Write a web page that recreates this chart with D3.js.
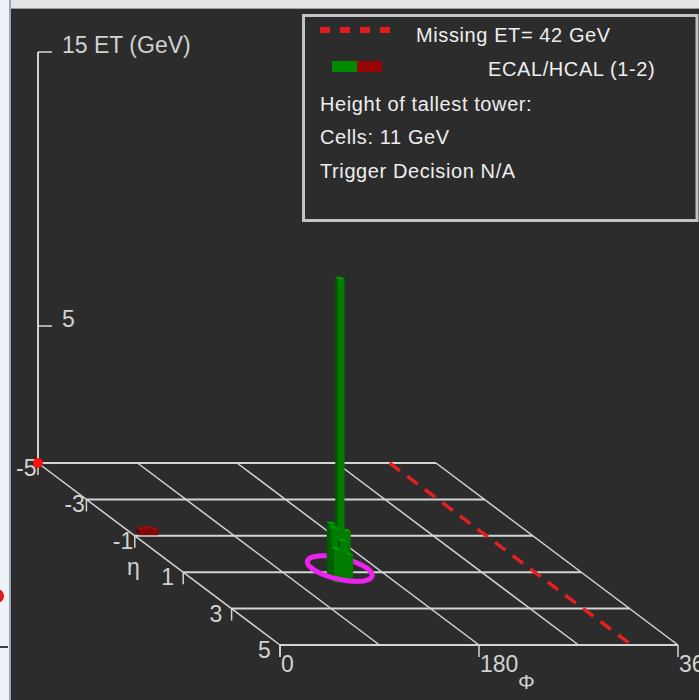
<!DOCTYPE html>
<html>
<head>
<meta charset="utf-8">
<script src="https://cdn.jsdelivr.net/npm/d3@7"></script>
<style>
  html, body { margin: 0; padding: 0; background: #2c2c2c; }
  svg { display: block; }
  text { font-family: "Liberation Sans", Arial, sans-serif; }
</style>
</head>
<body>
<svg id="lego" width="699" height="700"></svg>
<script>
// ---- event data --------------------------------------------------------
const etaTicks = [-5, -3, -1, 1, 3, 5];
const phiGrid = [0, 90, 180, 270, 360];
const phiTicks = [0, 180, 360];
const phiTickLabels = ["0", "180", "360"];
const etTicks = [5, 15];
const etTickLabels = ["5", "15 ET (GeV)"];

// calorimeter towers (cell centres in eta / phi-degrees, ET in GeV)
const towerEta  = [1.2, 1.3, 1.3, 1.3, 1.4, 1.4, 1.4, 1.5, 1.5, 1.5, -1.1, -1.1, -1.1];
const towerPhi  = [133, 127.4, 133, 138.6, 127.4, 133, 138.6, 127.4, 133, 138.6, 8, 13.6, 19.3];
const towerEcal = [1.4, 2.0, 1.8, 1.7, 1.9, 11, 1.8, 1.2, 1.5, 1.0, 0, 0, 0];
const towerHcal = [0, 0, 0, 0, 0, 0, 0, 0, 0, 0, 0.2, 0.25, 0.2];

const cellEta = 0.1;
const cellPhi = 5.625;

// missing transverse energy
const metValue = 42;
const metPhi = 318;

// jet cone outline on the eta-phi plane
const jetEta = 0.8, jetPhi = 146, jetREta = 0.7, jetRPhi = 25;

const triggerText = "Trigger Decision N/A";

// ---- projection --------------------------------------------------------
const phiX = d3.scaleLinear().domain([0, 360]).range([0, 398]);
const etaX = d3.scaleLinear().domain([-5, 5]).range([38, 280]);
const etaY = d3.scaleLinear().domain([-5, 5]).range([463, 645]);
const etH  = d3.scaleLinear().domain([0, 15]).range([0, 411]);

function P(eta, phi, et) {
  return [etaX(eta) + phiX(phi), etaY(eta) - etH(et || 0)];
}

const svg = d3.select("#lego");
const line = d3.line();

// window chrome around the display panel
svg.append("rect").attr("x", 0).attr("y", 0).attr("width", 699).attr("height", 700).attr("fill", "#2c2c2c");
svg.append("rect").attr("x", 0).attr("y", 0).attr("width", 699).attr("height", 8).attr("fill", "#e3e3e3");
svg.append("rect").attr("x", 0).attr("y", 0).attr("width", 10).attr("height", 700).attr("fill", "#eef2f7");
svg.append("rect").attr("x", 10).attr("y", 8).attr("width", 689).attr("height", 1).attr("fill", "#9e9e9e");
svg.append("rect").attr("x", 9).attr("y", 0).attr("width", 2).attr("height", 700).attr("fill", "#97a5b3");
svg.append("rect").attr("x", 0).attr("y", 646).attr("width", 8).attr("height", 2).attr("fill", "#3a3f46");
svg.append("circle").attr("cx", -3).attr("cy", 596).attr("r", 7).attr("fill", "#e01818");

const gridColor = "#d4d4d4";
const textColor = "#d2d2d2";

// ---- floor grid --------------------------------------------------------
const grid = svg.append("g");
grid.selectAll("path.row").data(etaTicks).join("path")
  .attr("d", e => line([P(e, 0), P(e, 360)]))
  .attr("stroke", gridColor).attr("stroke-width", 2).attr("fill", "none");
grid.selectAll("path.col").data(phiGrid).join("path")
  .attr("d", p => line([P(-5, p), P(5, p)]))
  .attr("stroke", gridColor).attr("stroke-width", 1.5).attr("fill", "none");

// eta ticks and labels
grid.selectAll("path.etick").data(etaTicks).join("path")
  .attr("d", e => { const [x, y] = P(e, 0); return line([[x, y], [x, y + 12]]); })
  .attr("stroke", gridColor).attr("stroke-width", 1.5);
grid.selectAll("text.elab").data(etaTicks).join("text")
  .attr("x", e => P(e, 0)[0] - 22).attr("y", e => P(e, 0)[1] + 13)
  .attr("font-size", 23).attr("fill", textColor)
  .text(e => e < 0 ? "-" + Math.abs(e) : String(e));
svg.append("text")
  .attr("x", P(0, 0)[0] - 32).attr("y", P(0, 0)[1] + 21)
  .attr("font-size", 23).attr("fill", textColor).text("η");

// phi ticks and labels along the front edge
grid.selectAll("path.ptick").data(phiTicks).join("path")
  .attr("d", p => { const [x, y] = P(5, p); return line([[x, y], [x, y + 12]]); })
  .attr("stroke", gridColor).attr("stroke-width", 1.5);
grid.selectAll("text.plab").data(phiTicks).join("text")
  .attr("x", p => P(5, p)[0] + 1).attr("y", p => P(5, p)[1] + 27)
  .attr("font-size", 23).attr("fill", textColor)
  .text((p, i) => phiTickLabels[i]);
svg.append("text")
  .attr("x", P(5, 180)[0] + 39).attr("y", P(5, 180)[1] + 44)
  .attr("font-size", 21).attr("fill", textColor).text("Φ");

// vertical ET axis
const [ox, oy] = P(-5, 0, 0);
svg.append("path").attr("d", line([[ox, oy], P(-5, 0, 15)]))
  .attr("stroke", gridColor).attr("stroke-width", 2);
svg.selectAll("path.ettick").data(etTicks).join("path")
  .attr("d", v => { const [x, y] = P(-5, 0, v); return line([[x, y], [x + 14, y]]); })
  .attr("stroke", gridColor).attr("stroke-width", 1.5);
svg.selectAll("text.etlab").data(etTicks).join("text")
  .attr("x", v => P(-5, 0, v)[0] + 24).attr("y", v => P(-5, 0, v)[1] + 1)
  .attr("font-size", 23).attr("fill", textColor)
  .text((v, i) => etTickLabels[i]);

// ---- missing ET direction ---------------------------------------------
svg.append("path").attr("d", line([P(-5, metPhi), P(5, metPhi)]))
  .attr("stroke", "#e52020").attr("stroke-width", 3.5)
  .attr("stroke-dasharray", "13,9").attr("fill", "none");

// ---- jet cone (back half before towers, front half after) --------------
const jetColor = "#ee22ee";
function jetArc(t0, t1) {
  const pts = d3.range(0, 41).map(i => {
    const t = t0 + (t1 - t0) * i / 40;
    return P(jetEta + jetREta * Math.sin(t), jetPhi + jetRPhi * Math.cos(t));
  });
  return line(pts);
}
svg.append("path").attr("d", jetArc(Math.PI, 2 * Math.PI))
  .attr("stroke", jetColor).attr("stroke-width", 5).attr("fill", "none")
  .attr("stroke-linecap", "round");

// ---- towers ------------------------------------------------------------
const towers = towerEta.map((e, i) => ({
  eta: e, phi: towerPhi[i], ecal: towerEcal[i], hcal: towerHcal[i]
}));
// paint back-to-front: low eta first, then high phi first
towers.sort((a, b) => a.eta - b.eta || b.phi - a.phi);

const faceColors = {
  ecal: { front: "#007d00", side: "#005c00", top: "#00a000" },
  hcal: { front: "#800808", side: "#5e0404", top: "#9a1010" }
};

const towerG = svg.append("g");
function drawBox(t, z0, z1, c) {
  if (z1 <= z0) return;
  const e0 = t.eta - cellEta / 2, e1 = t.eta + cellEta / 2;
  const p0 = t.phi - cellPhi / 2, p1 = t.phi + cellPhi / 2;
  const faces = [
    { d: [P(e0, p0, z0), P(e1, p0, z0), P(e1, p0, z1), P(e0, p0, z1)], f: c.side },
    { d: [P(e1, p0, z0), P(e1, p1, z0), P(e1, p1, z1), P(e1, p0, z1)], f: c.front },
    { d: [P(e0, p0, z1), P(e0, p1, z1), P(e1, p1, z1), P(e1, p0, z1)], f: c.top }
  ];
  faces.forEach(fc => {
    towerG.append("path").attr("d", line(fc.d) + "Z")
      .attr("fill", fc.f).attr("stroke", fc.f).attr("stroke-width", 0.6);
  });
}
towers.forEach(t => {
  drawBox(t, 0, t.ecal, faceColors.ecal);
  drawBox(t, t.ecal, t.ecal + t.hcal, faceColors.hcal);
});

svg.append("path").attr("d", jetArc(0, Math.PI))
  .attr("stroke", jetColor).attr("stroke-width", 5).attr("fill", "none")
  .attr("stroke-linecap", "round");

// origin marker
svg.append("circle").attr("cx", ox).attr("cy", oy).attr("r", 5).attr("fill", "#ff1010");

// ---- legend box --------------------------------------------------------
const lg = svg.append("g");
lg.append("rect").attr("x", 303.5).attr("y", 15.5).attr("width", 393.5).attr("height", 205)
  .attr("fill", "#2c2c2c").attr("stroke", "#c4c4c4").attr("stroke-width", 3);
lg.append("path").attr("d", line([[320, 30], [392, 30]]))
  .attr("stroke", "#e01c1c").attr("stroke-width", 6).attr("stroke-dasharray", "10,10");
lg.append("rect").attr("x", 332).attr("y", 61).attr("width", 25).attr("height", 11).attr("fill", "#008a00");
lg.append("rect").attr("x", 357).attr("y", 61).attr("width", 25).attr("height", 11).attr("fill", "#960606");

const tallest = d3.max(towers, t => t.ecal + t.hcal);
const legendText = [
  { x: 416, y: 42, s: "Missing ET= " + metValue + " GeV" },
  { x: 488, y: 76, s: "ECAL/HCAL (1-2)" },
  { x: 320, y: 110.5, s: "Height of tallest tower:" },
  { x: 320, y: 144, s: "Cells: " + tallest + " GeV" },
  { x: 320, y: 177.5, s: triggerText }
];
lg.selectAll("text").data(legendText).join("text")
  .attr("x", d => d.x).attr("y", d => d.y)
  .attr("font-size", 20).attr("letter-spacing", 0.6)
  .attr("fill", "#eeeeee").text(d => d.s);
</script>
</body>
</html>
